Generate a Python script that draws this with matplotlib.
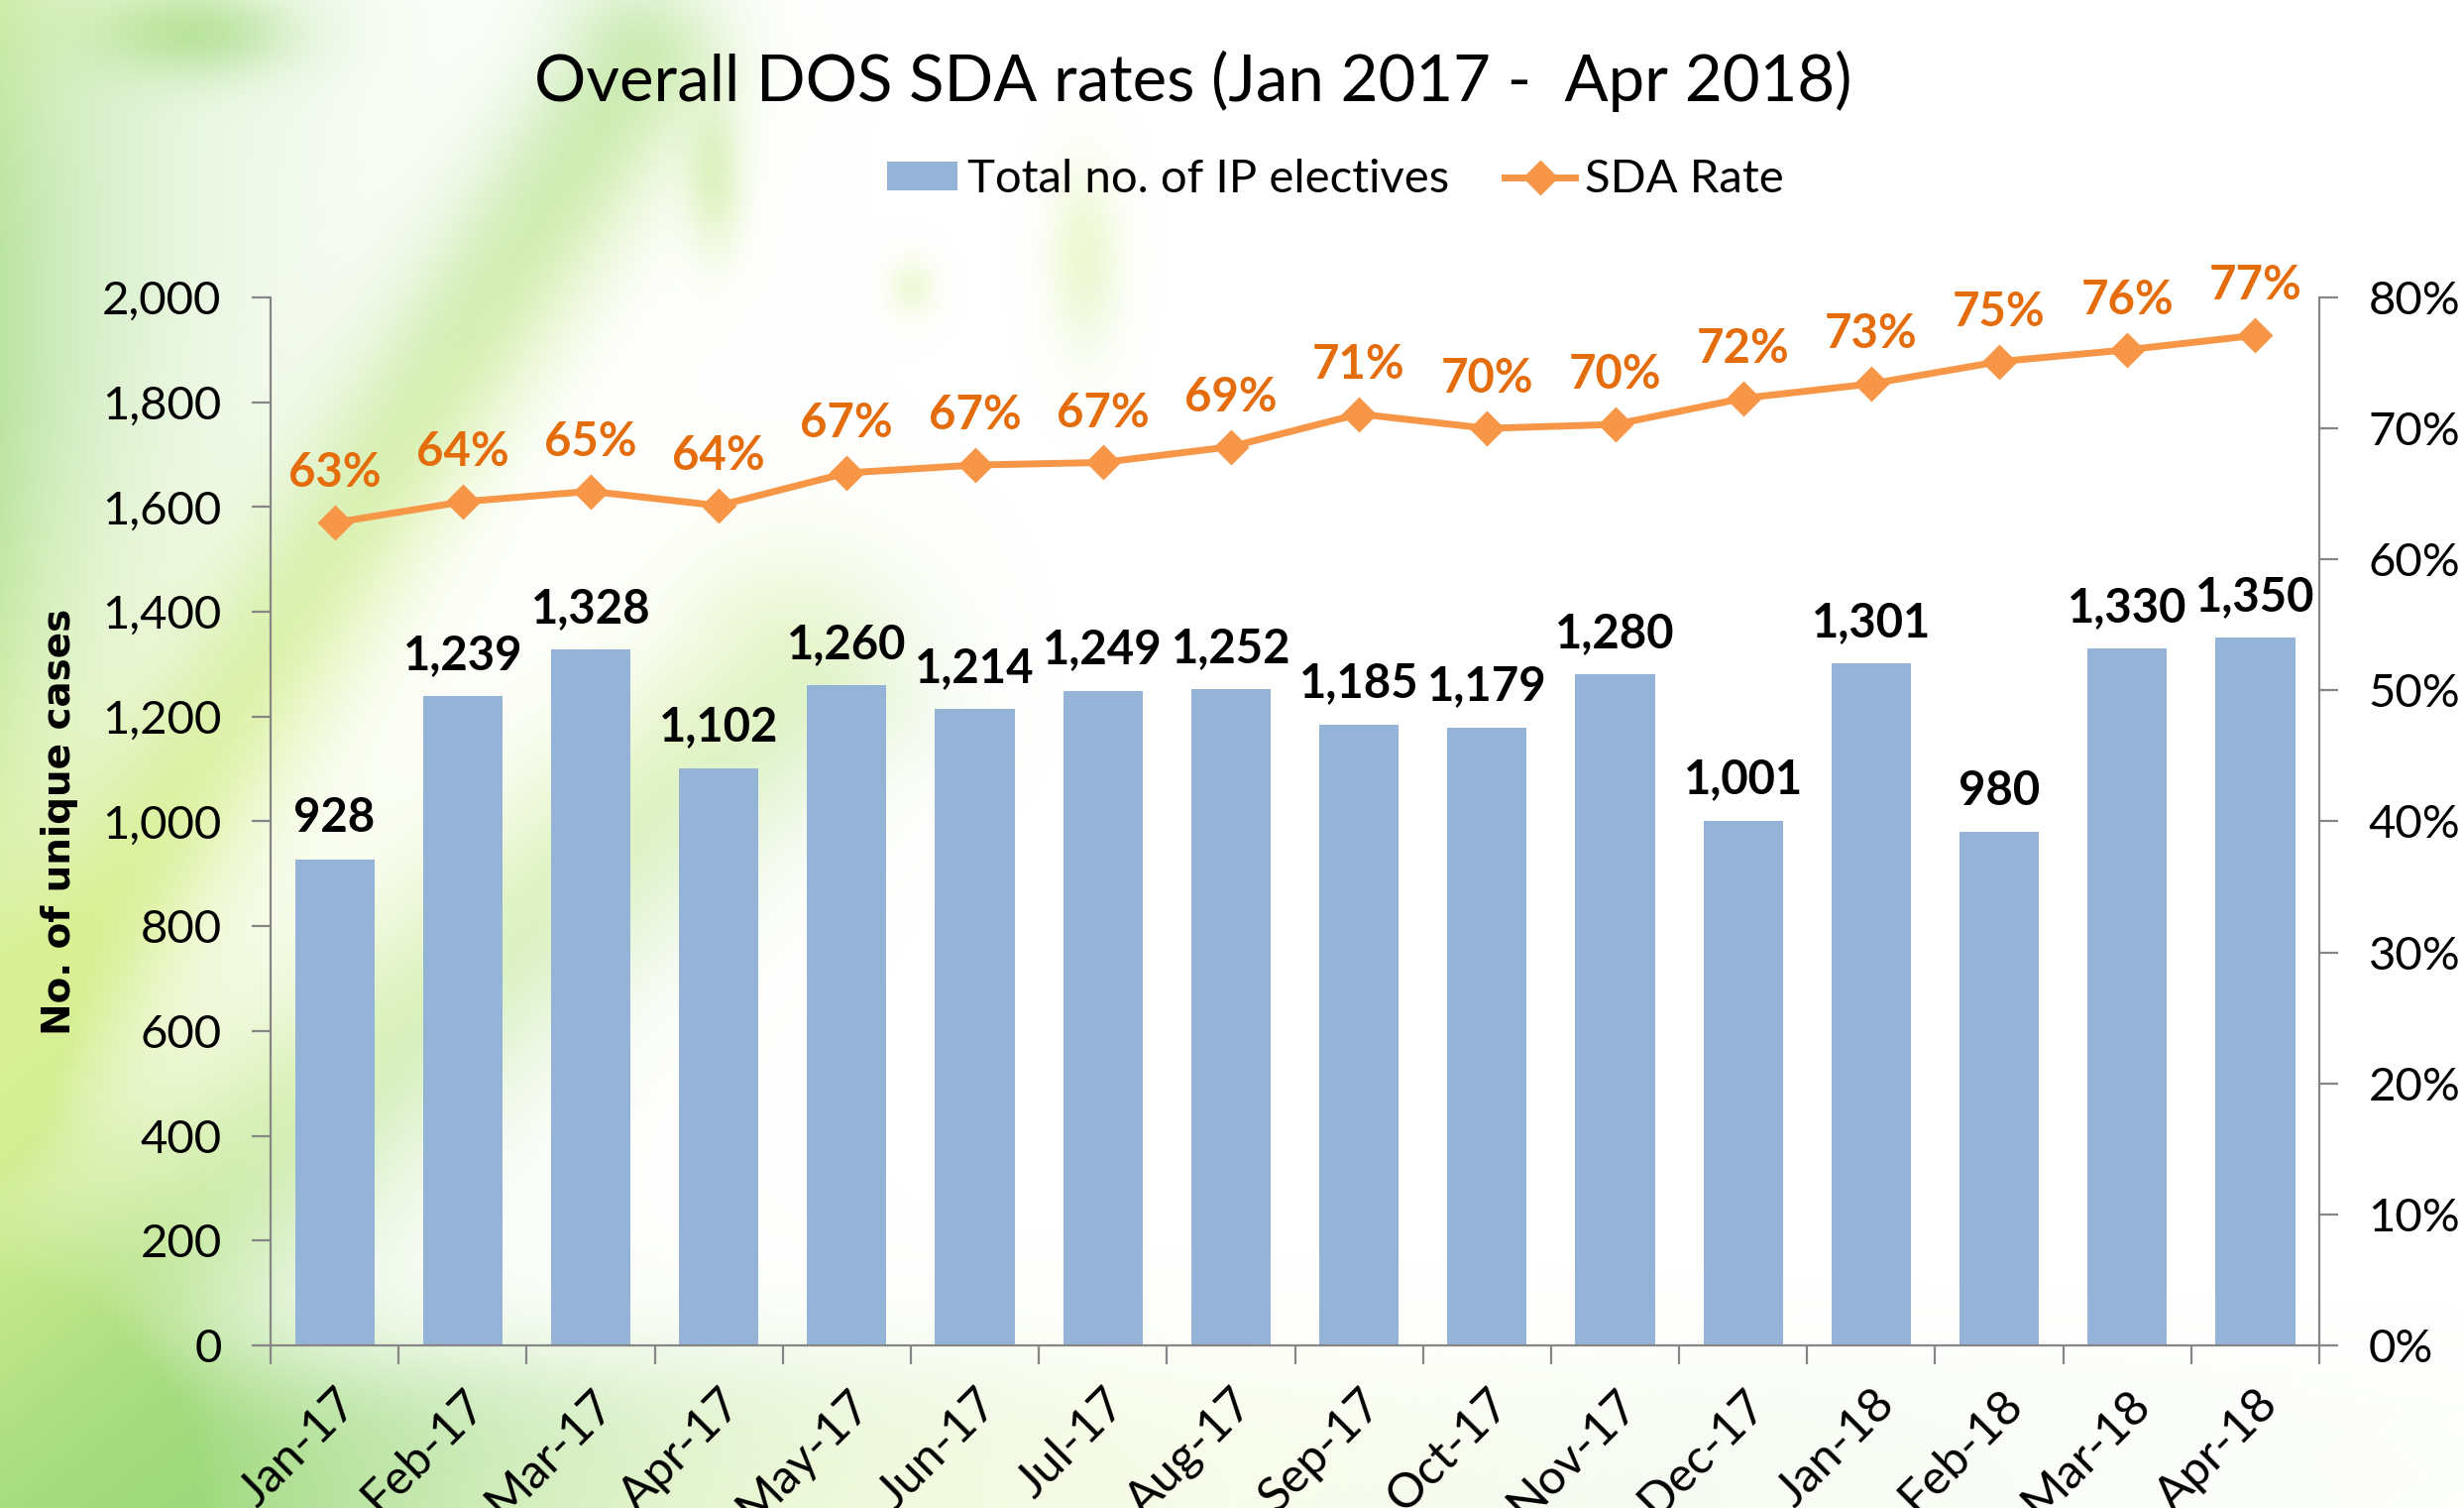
import numpy as np
import matplotlib
matplotlib.use('Agg')
import matplotlib.pyplot as plt
from matplotlib.lines import Line2D
from matplotlib.patches import Patch
from matplotlib.ticker import FuncFormatter

# ---------------- data ----------------
months = ['Jan-17', 'Feb-17', 'Mar-17', 'Apr-17', 'May-17', 'Jun-17', 'Jul-17', 'Aug-17',
          'Sep-17', 'Oct-17', 'Nov-17', 'Dec-17', 'Jan-18', 'Feb-18', 'Mar-18', 'Apr-18']
electives = [928, 1239, 1328, 1102, 1260, 1214, 1249, 1252,
             1185, 1179, 1280, 1001, 1301, 980, 1330, 1350]
sda_rate = [0.628, 0.644, 0.652, 0.641, 0.666, 0.672, 0.674, 0.686,
            0.711, 0.700, 0.703, 0.723, 0.734, 0.751, 0.760, 0.771]
left_ticks = list(range(0, 2001, 200))
right_ticks = [0.0, 0.1, 0.2, 0.3, 0.4, 0.5, 0.6, 0.7, 0.8]

TITLE = 'Overall DOS SDA rates (Jan 2017 -  Apr 2018)'
BAR_C = '#95B3D7'
LINE_C = '#F79646'
PCT_C = '#E46C0A'
AX_C = '#868686'
FONT = 'Lato'

fig = plt.figure(figsize=(12.43, 7.605), dpi=200)
fig.patch.set_facecolor('white')

# ---------------- decorative background ----------------
h, w = 380, 622
yy, xx = np.mgrid[0:1:h * 1j, 0:1:w * 1j]
alpha = 0.6 * np.exp(-xx / 0.07)
p0 = np.array([0.0, 0.72]); p1 = np.array([0.26, 0.04])
d = p1 - p0
t = np.clip(((xx - p0[0]) * d[0] + (yy - p0[1]) * d[1]) / (d @ d), 0, 1)
dist = np.hypot(xx - (p0[0] + t * d[0]), (yy - (p0[1] + t * d[1])) * 0.6)
alpha += 0.5 * np.exp(-(dist / 0.035) ** 2)
q0 = np.array([0.0, 0.92]); q1 = np.array([0.32, 0.45])
e = q1 - q0
t2 = np.clip(((xx - q0[0]) * e[0] + (yy - q0[1]) * e[1]) / (e @ e), 0, 1)
dist2 = np.hypot(xx - (q0[0] + t2 * e[0]), (yy - (q0[1] + t2 * e[1])) * 0.6)
alpha += 0.4 * np.exp(-(dist2 / 0.05) ** 2)
alpha += 0.85 / (1 + np.exp(-(yy - 0.905) / 0.02)) * np.exp(-xx / 0.3)
for cx, cy, sx, sy, a in [(0.29, 0.12, 0.012, 0.05, 0.4), (0.44, 0.17, 0.015, 0.06, 0.35),
                          (0.37, 0.19, 0.01, 0.02, 0.3), (0.08, 0.02, 0.04, 0.03, 0.45)]:
    alpha += a * np.exp(-((xx - cx) / sx) ** 2 - ((yy - cy) / sy) ** 2)
alpha = np.clip(alpha, 0, 0.85)
col = np.zeros((h, w, 4))
mix = np.clip(0.5 + 0.5 * np.sin(xx * 9 + yy * 7), 0, 1)
g1 = np.array([140, 210, 100]) / 255.0
g2 = np.array([210, 238, 130]) / 255.0
for k in range(3):
    col[..., k] = g1[k] * mix + g2[k] * (1 - mix)
col[..., 3] = alpha
bg = fig.add_axes([0, 0, 1, 1], zorder=0)
bg.imshow(col, aspect='auto', interpolation='bilinear', extent=[0, 1, 0, 1])
bg.axis('off')

# ---------------- main axes ----------------
ax = fig.add_axes([0.1098, 0.1078, 0.8315, 0.695])
ax.set_zorder(1)
ax.patch.set_alpha(0)
x = np.arange(len(months))
ax.bar(x, electives, width=0.62, color=BAR_C, zorder=2)
ax.set_xlim(-0.5, len(months) - 0.5)
ax.set_ylim(0, 2000)
ax.set_yticks(left_ticks)
ax.yaxis.set_major_formatter(FuncFormatter(lambda v, p: f'{int(v):,}'))

ax.set_xticks(np.arange(-0.5, len(months), 1.0))
ax.set_xticklabels([])
ax.set_xticks(x, minor=True)
ax.set_xticklabels(months, minor=True, rotation=45, ha='right', va='top',
                   rotation_mode='anchor', fontsize=17.5, family=FONT)
ax.tick_params(axis='x', which='minor', length=0, pad=13)
ax.tick_params(axis='x', which='major', length=6.8, width=0.8, color=AX_C, direction='out')
ax.tick_params(axis='y', length=6.8, width=0.8, color=AX_C, pad=11, labelsize=17)
for lab in ax.get_yticklabels():
    lab.set_family(FONT)
for s in ['top', 'right']:
    ax.spines[s].set_visible(False)
for s in ['left', 'bottom']:
    ax.spines[s].set_color(AX_C)
    ax.spines[s].set_linewidth(0.8)

for xi, v in zip(x, electives):
    ax.annotate(f'{v:,}', (xi, v), xytext=(0, 7), textcoords='offset points',
                ha='center', va='bottom', fontsize=17, fontweight='bold', family=FONT,
                color='black', zorder=5)

ax2 = ax.twinx()
ax2.set_zorder(2)
ax2.patch.set_alpha(0)
ax2.plot(x, sda_rate, color=LINE_C, lw=2.5, marker='D', ms=8, zorder=3)
ax2.set_ylim(0, 0.8)
ax2.set_yticks(right_ticks)
ax2.yaxis.set_major_formatter(FuncFormatter(lambda v, p: f'{v * 100:.0f}%'))
ax2.tick_params(axis='y', length=6.8, width=0.8, color=AX_C, pad=11, labelsize=17)
for lab in ax2.get_yticklabels():
    lab.set_family(FONT)
for s in ['top', 'left', 'bottom']:
    ax2.spines[s].set_visible(False)
ax2.spines['right'].set_color(AX_C)
ax2.spines['right'].set_linewidth(0.8)

for xi, v in zip(x, sda_rate):
    ax2.annotate(f'{v * 100:.0f}%', (xi, v), xytext=(0, 10), textcoords='offset points',
                 ha='center', va='bottom', fontsize=17, fontweight='bold', family=FONT,
                 color=PCT_C, zorder=5)

# ---------------- text ----------------
fig.text(0.484, 0.946, TITLE, ha='center', va='center', fontsize=23.5, family=FONT)
fig.text(0.024, 0.455, 'No. of unique cases', rotation=90, ha='center', va='center',
         fontsize=14, fontweight='bold', family='DejaVu Sans')

handles = [Patch(facecolor=BAR_C, edgecolor='none'),
           Line2D([0], [0], color=LINE_C, lw=2.5, marker='D', ms=8)]
fig.legend(handles, ['Total no. of IP electives', 'SDA Rate'], loc='center',
           bbox_to_anchor=(0.542, 0.881), ncol=2, frameon=False,
           prop={'family': FONT, 'size': 17}, handlelength=1.5, handleheight=0.55,
           handletextpad=0.2, columnspacing=1.2)

fig.savefig('out.png', dpi=200)
